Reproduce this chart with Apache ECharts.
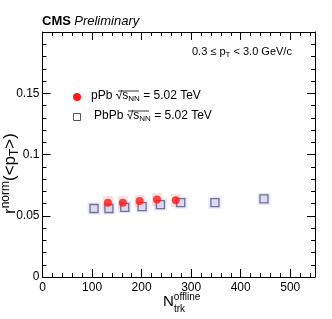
<!DOCTYPE html>
<html><head><meta charset="utf-8">
<script src="https://cdn.jsdelivr.net/npm/echarts@6/dist/echarts.min.js"></script>
<style>html,body{margin:0;padding:0;background:#fff}#c{width:332px;height:319px}</style>
</head><body><div id="c"></div>
<script>
var pPbX = [132, 162, 196, 231, 269];
var pPbY = [0.0607, 0.0607, 0.0620, 0.0632, 0.0626];
var PbPbX = [104, 134, 166, 201, 238, 279, 348, 447];
var PbPbY = [0.0559, 0.0559, 0.0569, 0.0575, 0.0591, 0.0607, 0.0607, 0.0637];
var xTicks = [0, 100, 200, 300, 400, 500];
var yTicks = [0, 0.05, 0.1, 0.15];

function pairs(xs, ys){ return xs.map(function(x,i){return [x, ys[i]];}); }
var F = 'Liberation Sans, Arial, Helvetica, sans-serif';
var chart = echarts.init(document.getElementById('c'));
var tick = {show:true, inside:true, length:8, lineStyle:{color:'#000', width:1}};
var minor = {show:true, splitNumber:5, length:4, lineStyle:{color:'#000', width:1}};
var line = {show:true, onZero:false, lineStyle:{color:'#000', width:1}};
chart.setOption({
  animation:false,
  grid:{left:42.5, right:17, top:32, bottom:42, containLabel:false},
  xAxis:[
    {type:'value', min:0, max:550, interval:100, axisLine:line, axisTick:tick, minorTick:minor,
     splitLine:{show:false}, axisLabel:{color:'#000', fontFamily:F, fontSize:12, margin:5, showMaxLabel:false,
     formatter:function(v){return xTicks.indexOf(v)>=0 ? String(v) : '';}}},
    {type:'value', position:'top', min:0, max:550, interval:100, axisLine:line, axisTick:tick, minorTick:minor,
     splitLine:{show:false}, axisLabel:{show:false}}
  ],
  yAxis:[
    {type:'value', min:0, max:0.2, interval:0.05, axisLine:line, axisTick:tick, minorTick:minor,
     splitLine:{show:false}, axisLabel:{color:'#000', fontFamily:F, fontSize:12, margin:3, showMaxLabel:false,
     formatter:function(v){var r=Math.round(v*100)/100; return yTicks.indexOf(r)>=0 ? String(r) : '';}}},
    {type:'value', position:'right', min:0, max:0.2, interval:0.05, axisLine:line, axisTick:tick, minorTick:minor,
     splitLine:{show:false}, axisLabel:{show:false}}
  ],
  series:[
    {type:'scatter', name:'PbPbSys', data:pairs(PbPbX, PbPbY), symbol:'rect', symbolSize:[13,12],
     itemStyle:{color:'rgba(200,200,240,0.55)'}, z:1, silent:true},
    {type:'scatter', name:'pPbSys', data:pairs(pPbX, pPbY), symbol:'rect', symbolSize:[10,13],
     itemStyle:{color:'rgba(255,150,150,0.4)'}, z:2, silent:true},
    {type:'scatter', name:'PbPb', data:pairs(PbPbX, PbPbY), symbol:'rect', symbolSize:8,
     itemStyle:{color:'#d8d8f4', borderColor:'#55557a', borderWidth:1.3}, z:3},
    {type:'scatter', name:'pPb', data:pairs(pPbX, pPbY), symbol:'circle', symbolSize:8,
     itemStyle:{color:'#ff1a1a'}, z:4}
  ],
  graphic:[
    {type:'text', left:42, top:15, style:{text:'{b|CMS} {i|Preliminary}', rich:{
      b:{fontFamily:F, fontWeight:'bold', fontSize:13, fill:'#000'},
      i:{fontFamily:F, fontStyle:'italic', fontSize:13, fill:'#000'}}}},
    {type:'text', left:192, top:46, style:{text:'{n|0.3 ≤ p}{s|T}{n| < 3.0 GeV/c}', rich:{
      n:{fontFamily:F, fontSize:11, fill:'#000'},
      s:{fontFamily:F, fontSize:8, fill:'#000', padding:[7,0,0,0]}}}},
    {type:'circle', shape:{cx:77, cy:97, r:4}, style:{fill:'#ff1a1a'}},
    {type:'rect', shape:{x:73.5, y:113.5, width:7, height:7}, style:{fill:'#fff', stroke:'#555', lineWidth:1}},
    {type:'text', left:91, top:90, style:{text:'{n|pPb √}{q|s}{s|NN}{n| = 5.02 TeV}', rich:{
      n:{fontFamily:F, fontSize:12, fill:'#000'},
      q:{fontFamily:F, fontSize:12, fill:'#000'},
      s:{fontFamily:F, fontSize:8, fill:'#000', padding:[6,0,0,0]}}}},
    {type:'line', shape:{x1:118, y1:91, x2:139, y2:91}, style:{stroke:'#000', lineWidth:0.8}},
    {type:'text', left:94, top:110, style:{text:'{n|PbPb √}{q|s}{s|NN}{n| = 5.02 TeV}', rich:{
      n:{fontFamily:F, fontSize:12, fill:'#000'},
      q:{fontFamily:F, fontSize:12, fill:'#000'},
      s:{fontFamily:F, fontSize:8, fill:'#000', padding:[6,0,0,0]}}}},
    {type:'line', shape:{x1:128, y1:111, x2:149, y2:111}, style:{stroke:'#000', lineWidth:0.8}},
    {type:'text', x:163, y:292, style:{text:'{n|N}{u|offline}', rich:{
      n:{fontFamily:F, fontSize:15, fill:'#000'},
      u:{fontFamily:F, fontSize:10, fill:'#000', padding:[0,0,10,0]}}}},
    {type:'text', x:174, y:304, style:{text:'trk', font:'10px '+F, fill:'#000'}},
    {type:'text', x:0, y:214, rotation:Math.PI/2, style:{text:'{n|r}{u|norm}{n|(<p}{d|T}{n|>)}', rich:{
      n:{fontFamily:F, fontSize:17, fill:'#000'},
      u:{fontFamily:F, fontSize:12, fill:'#000', padding:[0,0,9,0]},
      d:{fontFamily:F, fontSize:12, fill:'#000', padding:[9,0,0,0]}}}}
  ]
});
</script></body></html>
